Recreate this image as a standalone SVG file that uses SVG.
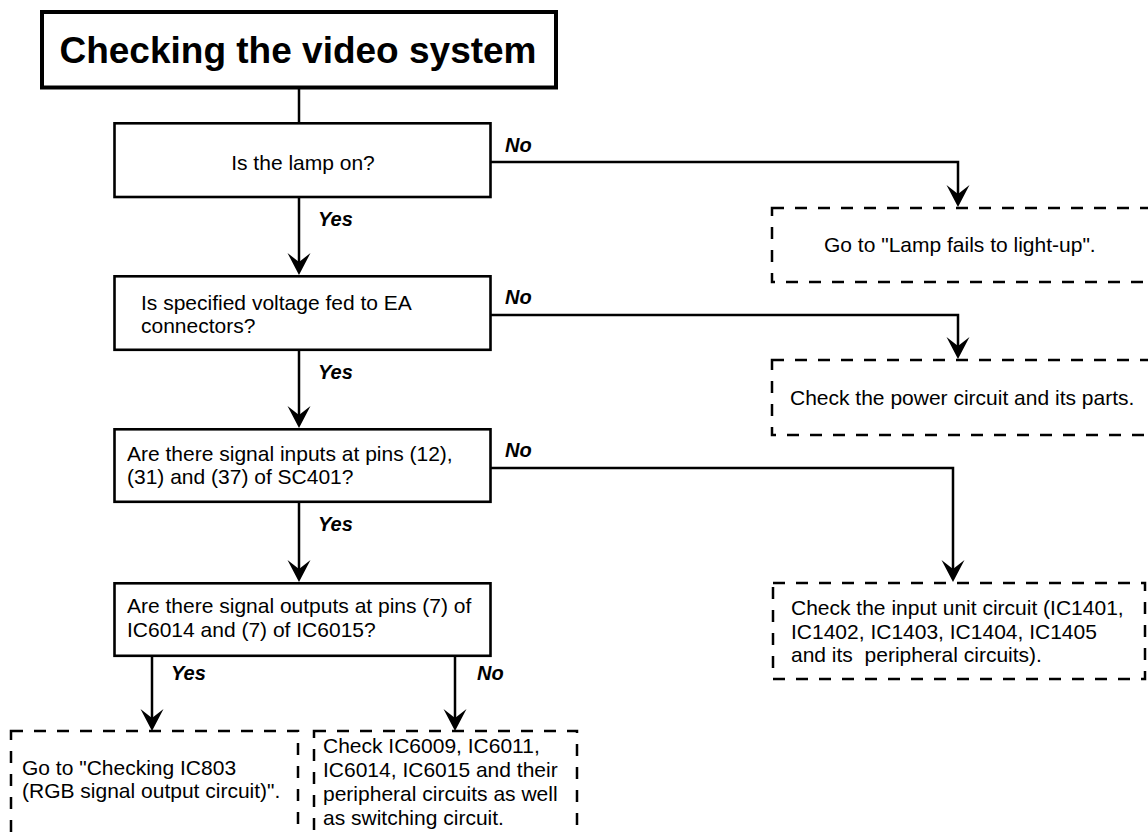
<svg xmlns="http://www.w3.org/2000/svg" width="1148" height="834" viewBox="0 0 1148 834">
<style>
  .box { fill: #fff; stroke: #000; stroke-width: 2.6; }
  .title { fill: #fff; stroke: #000; stroke-width: 4; }
  .dash { fill: #fff; stroke: #000; stroke-width: 2.5; stroke-dasharray: 12 11; }
  .conn { fill: none; stroke: #000; stroke-width: 2.5; }
  text { font-family: "Liberation Sans", Arial, sans-serif; fill: #000; }
  .t { font-size: 21px; }
  .tt { font-size: 37px; font-weight: bold; }
  .lbl { font-size: 20px; font-weight: bold; font-style: italic; }
</style>
<defs>
  <marker id="arr" markerUnits="userSpaceOnUse" viewBox="-13 -12 24 24" markerWidth="24" markerHeight="24" refX="0" refY="0" orient="auto">
    <path d="M10,0 L-12,-11.5 L-3,0 L-12,11.5 Z" fill="#000"/>
  </marker>
</defs>

<g id="connectors">
  <path class="conn" d="M299,89 V123"/>
  <path class="conn" d="M299,197 V265" marker-end="url(#arr)"/>
  <path class="conn" d="M299,350 V418" marker-end="url(#arr)"/>
  <path class="conn" d="M299,502 V572" marker-end="url(#arr)"/>
  <path class="conn" d="M491,162 H958 V197" marker-end="url(#arr)"/>
  <path class="conn" d="M491,315 H958 V349" marker-end="url(#arr)"/>
  <path class="conn" d="M491,468 H953 V572" marker-end="url(#arr)"/>
  <path class="conn" d="M152,656 V721" marker-end="url(#arr)"/>
  <path class="conn" d="M455,656 V721" marker-end="url(#arr)"/>
  <text class="lbl" x="505" y="152">No</text>
  <text class="lbl" x="318" y="226">Yes</text>
  <text class="lbl" x="505" y="304">No</text>
  <text class="lbl" x="318" y="379">Yes</text>
  <text class="lbl" x="505" y="457">No</text>
  <text class="lbl" x="318" y="531">Yes</text>
  <text class="lbl" x="171" y="680">Yes</text>
  <text class="lbl" x="477" y="680">No</text>
</g>

<g id="title">
  <rect class="title" x="42" y="12" width="514" height="75.5"/>
  <text class="tt" x="298" y="63" text-anchor="middle">Checking the video system</text>
</g>

<g id="q1">
  <rect class="box" x="114.5" y="123.3" width="376" height="73.7"/>
  <text class="t" x="303" y="170" text-anchor="middle">Is the lamp on?</text>
</g>

<g id="q2">
  <rect class="box" x="114.5" y="276.3" width="376" height="73.5"/>
  <text class="t" x="141" y="310">Is specified voltage fed to EA</text>
  <text class="t" x="141" y="333">connectors?</text>
</g>

<g id="q3">
  <rect class="box" x="114.5" y="429.3" width="376" height="72.5"/>
  <text class="t" x="127" y="461">Are there signal inputs at pins (12),</text>
  <text class="t" x="127" y="484">(31) and (37) of SC401?</text>
</g>

<g id="q4">
  <rect class="box" x="114.5" y="583.3" width="376" height="72.5"/>
  <text class="t" x="127" y="613">Are there signal outputs at pins (7) of</text>
  <text class="t" x="127" y="637">IC6014 and (7) of IC6015?</text>
</g>

<g id="lamp">
  <rect class="dash" x="772" y="208" width="390" height="74"/>
  <text class="t" x="824" y="252">Go to "Lamp fails to light-up".</text>
</g>

<g id="power">
  <rect class="dash" x="772" y="360" width="390" height="75"/>
  <text class="t" x="790" y="405">Check the power circuit and its parts.</text>
</g>

<g id="input">
  <rect class="dash" x="773" y="583" width="372" height="96"/>
  <text class="t" x="791" y="615">Check the input unit circuit (IC1401,</text>
  <text class="t" x="791" y="639">IC1402, IC1403, IC1404, IC1405</text>
  <text class="t" x="791" y="662" xml:space="preserve">and its  peripheral circuits).</text>
</g>

<g id="rgb">
  <rect class="dash" x="11" y="731" width="287" height="120"/>
  <text class="t" x="22" y="775">Go to "Checking IC803</text>
  <text class="t" x="22" y="798">(RGB signal output circuit)".</text>
</g>

<g id="ic">
  <rect class="dash" x="314" y="731" width="263" height="120"/>
  <text class="t" x="323" y="753">Check IC6009, IC6011,</text>
  <text class="t" x="323" y="777">IC6014, IC6015 and their</text>
  <text class="t" x="323" y="801">peripheral circuits as well</text>
  <text class="t" x="323" y="825">as switching circuit.</text>
</g>
</svg>
